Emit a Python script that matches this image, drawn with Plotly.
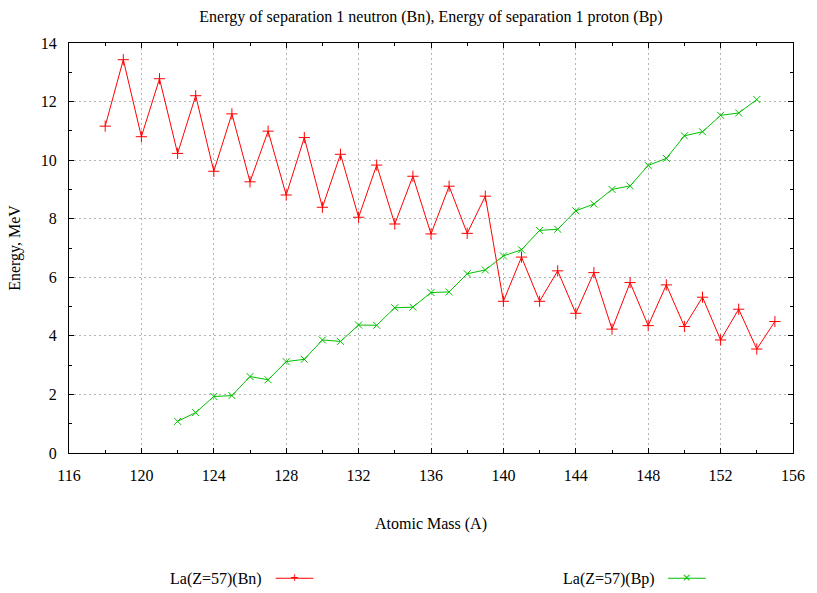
import plotly.graph_objects as go

A_bn = list(range(118, 156))
Bn = [11.16, 13.43, 10.80, 12.78, 10.23, 12.20, 9.62, 11.58, 9.26, 10.99,
      8.81, 10.77, 8.39, 10.20, 8.05, 9.83, 7.82, 9.45, 7.48, 9.11,
      7.50, 8.77, 5.18, 6.69, 5.18, 6.22, 4.77, 6.16, 4.23, 5.82,
      4.35, 5.74, 4.32, 5.32, 3.86, 4.91, 3.55, 4.49]

A_bp = list(range(122, 155))
Bp = [1.08, 1.38, 1.93, 1.96, 2.61, 2.50, 3.12, 3.20, 3.86, 3.81,
      4.37, 4.36, 4.96, 4.98, 5.48, 5.50, 6.12, 6.25, 6.73, 6.94,
      7.60, 7.64, 8.27, 8.50, 9.00, 9.12, 9.82, 10.06, 10.83, 10.97,
      11.53, 11.61, 12.07]

x_ticks = list(range(116, 157, 4))
y_ticks = list(range(0, 15, 2))

RED = "#ff0000"
GREEN = "#00c000"
FONT = "'Liberation Serif', 'Times New Roman', Times, serif"
FS = 16

fig = go.Figure()
fig.add_trace(go.Scatter(x=A_bn, y=Bn, mode="lines+markers", name="La(Z=57)(Bn)",
                         line=dict(color=RED, width=1),
                         marker=dict(symbol="cross-thin", size=8, line=dict(color=RED, width=1))))
fig.add_trace(go.Scatter(x=A_bp, y=Bp, mode="lines+markers", name="La(Z=57)(Bp)",
                         line=dict(color=GREEN, width=1),
                         marker=dict(symbol="x-thin", size=7, line=dict(color=GREEN, width=1))))

axis_common = dict(showline=True, linecolor="#000000", linewidth=1, mirror="ticks",
                   ticks="inside", ticklen=5, tickcolor="#000000",
                   showgrid=True, gridcolor="#b4b4b4", griddash="2px,3px", gridwidth=1,
                   zeroline=False, tickfont=dict(family=FONT, size=FS, color="#000000"))

fig.update_xaxes(range=[116, 156], tickvals=x_ticks, ticktext=[str(v) for v in x_ticks],
                 ticklabelstandoff=8,
                 minor=dict(dtick=2, tick0=116, ticks="inside", ticklen=3, tickcolor="#000000", showgrid=False),
                 title=dict(text="Atomic Mass (A)", font=dict(family=FONT, size=FS, color="#000000"), standoff=34),
                 **axis_common)
fig.update_yaxes(range=[0, 14], tickvals=y_ticks, ticktext=[str(v) for v in y_ticks],
                 ticklabelstandoff=8,
                 minor=dict(dtick=1, tick0=0, ticks="inside", ticklen=3, tickcolor="#000000", showgrid=False),
                 title=dict(text="Energy, MeV", font=dict(family=FONT, size=FS, color="#000000"), standoff=16),
                 **axis_common)

# legend drawn gnuplot-style: text followed by line sample
legend_items = [("La(Z=57)(Bn)", RED, "+", 0.270), ("La(Z=57)(Bp)", GREEN, "×", 0.812)]
for text, col, sym, xr in legend_items:
    fig.add_annotation(xref="paper", yref="paper", x=xr, y=-0.308, text=text, showarrow=False,
                       xanchor="right", yanchor="middle", font=dict(family=FONT, size=FS, color="#000000"))
    fig.add_shape(type="line", xref="paper", yref="paper", x0=xr + 0.0155, x1=xr + 0.0675,
                  y0=-0.3055, y1=-0.3055, line=dict(color=col, width=1))
    fig.add_annotation(xref="paper", yref="paper", x=xr + 0.0415, y=-0.304, text=sym, showarrow=False,
                       xanchor="center", yanchor="middle", font=dict(family="DejaVu Sans", size=11, color=col))

fig.update_layout(
    width=817, height=593,
    margin=dict(l=69, r=20, t=43, b=140),
    paper_bgcolor="#ffffff", plot_bgcolor="#ffffff",
    showlegend=False,
    title=dict(text="Energy of separation 1 neutron (Bn), Energy of separation 1 proton (Bp)",
               x=0.5, xref="paper", y=0.972, yanchor="middle",
               font=dict(family=FONT, size=FS, color="#000000")),
    font=dict(family=FONT, size=FS, color="#000000"),
)

fig.write_html("out.html")
